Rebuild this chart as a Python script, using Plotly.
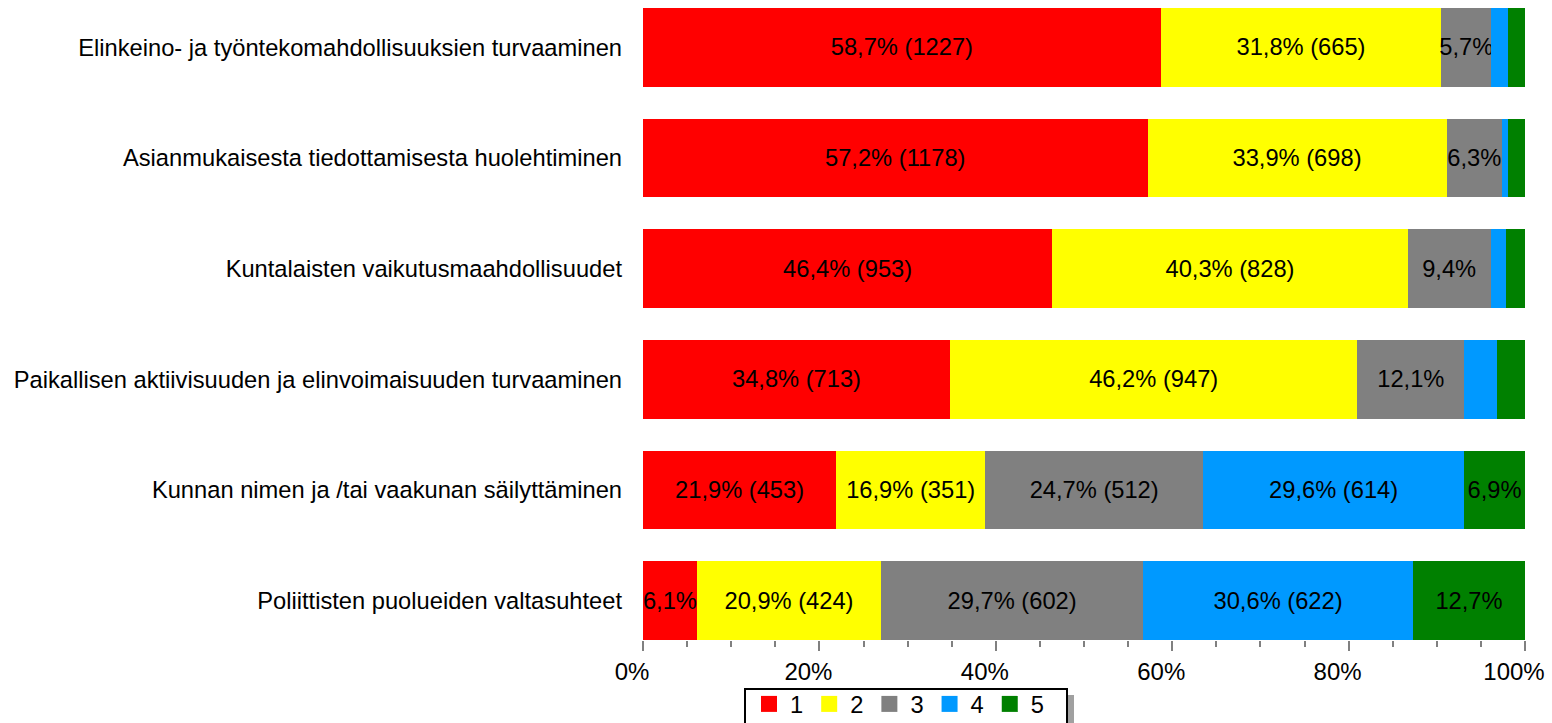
import plotly.graph_objects as go

categories = [
    "Elinkeino- ja työntekomahdollisuuksien turvaaminen",
    "Asianmukaisesta tiedottamisesta huolehtiminen",
    "Kuntalaisten vaikutusmaahdollisuudet",
    "Paikallisen aktiivisuuden ja elinvoimaisuuden turvaaminen",
    "Kunnan nimen ja /tai vaakunan säilyttäminen",
    "Poliittisten puolueiden valtasuhteet",
]
series_names = ["1", "2", "3", "4", "5"]
colors = ["#FF0000", "#FFFF00", "#808080", "#0099FF", "#008000"]

# percentage values per series (one value per category)
pct_1 = [58.7, 57.2, 46.4, 34.8, 21.9, 6.1]
pct_2 = [31.8, 33.9, 40.3, 46.2, 16.9, 20.9]
pct_3 = [5.7, 6.3, 9.4, 12.1, 24.7, 29.7]
pct_4 = [1.9, 0.7, 1.7, 3.7, 29.6, 30.6]
pct_5 = [1.9, 1.9, 2.2, 3.2, 6.9, 12.7]

# counts shown in labels (None = count not shown)
cnt_1 = [1227, 1178, 953, 713, 453, None]
cnt_2 = [665, 698, 828, 947, 351, 424]
cnt_3 = [None, None, None, None, 512, 602]
cnt_4 = [None, None, None, None, 614, 622]
cnt_5 = [None, None, None, None, None, None]

tick_vals = [0, 20, 40, 60, 80, 100]
tick_text = ["0%", "20%", "40%", "60%", "80%", "100%"]

pcts = [pct_1, pct_2, pct_3, pct_4, pct_5]
cnts = [cnt_1, cnt_2, cnt_3, cnt_4, cnt_5]

FONT = "Liberation Sans"
FS = 23.7


def fmt(p, c):
    if p < 5:
        return ""
    s = f"{p:.1f}".replace(".", ",") + "%"
    if c is not None:
        s += f" ({c})"
    return s


fig = go.Figure()
for name, col, pv, cv in zip(series_names, colors, pcts, cnts):
    fig.add_trace(go.Bar(
        y=categories, x=pv, name=name, orientation="h",
        marker=dict(color=col, line=dict(width=0)),
        text=[fmt(p, c) for p, c in zip(pv, cv)],
        textposition="inside", insidetextanchor="middle", textangle=0,
        textfont=dict(family=FONT, size=FS, color="black"),
        hoverinfo="skip", showlegend=False, legendgroup=name,
    ))
# legend entries with larger square symbols
for name, col in zip(series_names, colors):
    fig.add_trace(go.Scatter(
        x=[None], y=[None], mode="markers", name=name, legendgroup=name,
        marker=dict(symbol="square", size=22, color=col),
        showlegend=True, hoverinfo="skip",
    ))

# pixel -> paper helpers (plot area: x 643..1525, y 0..640)
def px(v):
    return (v - 643) / 882


def py(v):
    return (640 - v) / 640


fig.update_layout(
    barmode="stack", bargap=0.288,
    width=1552, height=723,
    margin=dict(l=643, r=27, t=0, b=83, autoexpand=False),
    paper_bgcolor="white", plot_bgcolor="white",
    font=dict(family=FONT, size=FS, color="black"),
    uniformtext=dict(minsize=FS, mode="show"),
    showlegend=True,
    legend=dict(
        orientation="h", x=px(748), xanchor="left", y=py(682), yanchor="top",
        borderwidth=0, bgcolor="rgba(0,0,0,0)",
        font=dict(family=FONT, size=FS, color="black"),
        traceorder="normal", itemclick=False, itemdoubleclick=False,
        itemwidth=32,
    ),
    xaxis=dict(
        range=[0, 100], tickvals=tick_vals, ticktext=tick_text,
        ticks="outside", ticklen=10, tickcolor="#808080", tickwidth=2,
        minor=dict(dtick=5, ticks="outside", ticklen=6, tickcolor="#808080", tickwidth=2),
        showgrid=False, zeroline=False, showline=False,
        ticklabeloverflow="allow", automargin=False, ticklabelshift=-11,
        tickfont=dict(family=FONT, size=24, color="black"),
    ),
    yaxis=dict(
        range=[5.356, -0.428], showgrid=False, zeroline=False, showline=False,
        ticks="", ticklabelstandoff=20, automargin=False,
        tickfont=dict(family=FONT, size=FS, color="black"),
    ),
    shapes=[
        dict(type="rect", xref="paper", yref="paper",
             x0=px(752), x1=px(1074), y0=py(740), y1=py(695),
             fillcolor="#A0A0A0", line=dict(width=0), layer="above"),
        dict(type="rect", xref="paper", yref="paper",
             x0=px(745), x1=px(1067), y0=py(735), y1=py(689),
             fillcolor="white", line=dict(width=2, color="black"), layer="above"),
    ],
)

fig.write_html(
    "out.html",
    config={"displayModeBar": False},
    post_script="document.body.style.margin='0';document.body.style.overflow='hidden';",
)
